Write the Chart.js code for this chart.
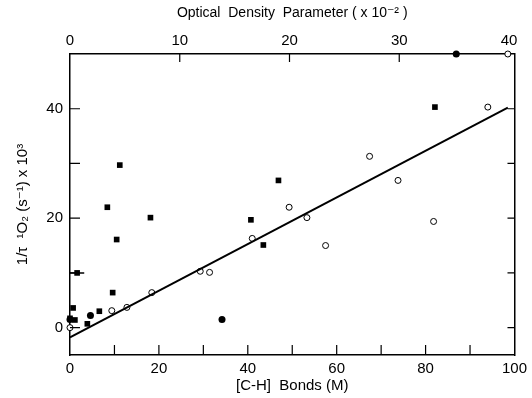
<!DOCTYPE html>
<html>
<head>
<meta charset="utf-8">
<script src="https://cdn.jsdelivr.net/npm/chart.js@4/dist/chart.umd.min.js"></script>
<style>
  html, body { margin: 0; padding: 0; background: #fff; }
  #wrap { width: 532px; height: 398px; }
</style>
</head>
<body>
<div id="wrap"><canvas id="chart"></canvas></div>
<script>
// values
const openX = [0, 9.4, 12.8, 18.4, 29.3, 31.4, 41.0, 49.3, 53.3, 57.5, 67.4, 73.8, 81.8, 94.0, 98.5];
const openY = [0, 3.1, 3.7, 6.4, 10.3, 10.1, 16.3, 22.0, 20.1, 15.0, 31.3, 26.9, 19.4, 40.3, 50];

const squareX = [0, 0.7, 1.1, 3.9, 6.6, 9.6, 10.5, 8.4, 11.2, 18.1, 40.7, 43.5, 46.9, 82.1, 1.6];
const squareY = [1.7, 3.6, 1.4, 0.7, 3.0, 6.4, 16.1, 22.0, 29.7, 20.1, 19.7, 15.1, 26.9, 40.3, 10.0];

const dotX = [0, 4.6, 34.2, 86.9];
const dotY = [1.5, 2.2, 1.5, 50];

const fitX = [0, 98.5];
const fitY = [-1.8, 40.2];

const errX = [0, 3.2];
const errY = [10, 10];

const bottomTicks = [0, 20, 40, 60, 80, 100];
const topTicks = [0, 10, 20, 30, 40];
const leftTicks = [0, 20, 40];

function pts(xs, ys) {
    return xs.map((x, i) => ({ x: x, y: ys[i] }));
}

function fixTicks(list) {
    return (s) => { s.ticks = list.map((v) => ({ value: v })); };
}

Chart.defaults.font.family = "'Liberation Sans', 'DejaVu Sans', sans-serif";
Chart.defaults.color = "#000";

// tick marks pointing into the plot
const innerTicks = {
    id: "innerTicks",
    afterDatasetsDraw(chart) {
        const ctx = chart.ctx;
        const a = chart.chartArea;
        ctx.save();
        ctx.strokeStyle = "#000";
        ctx.lineWidth = 1.2;
        ctx.beginPath();
        for (let v = 10; v < 100; v += 10) {
            const px = chart.scales.x.getPixelForValue(v);
            ctx.moveTo(px, a.bottom);
            ctx.lineTo(px, a.bottom - 10);
        }
        for (let v = 10; v < 40; v += 10) {
            const px = chart.scales.x2.getPixelForValue(v);
            ctx.moveTo(px, a.top);
            ctx.lineTo(px, a.top + 8);
        }
        for (let v = 0; v < 50; v += 10) {
            const py = chart.scales.y.getPixelForValue(v);
            ctx.moveTo(a.left, py);
            ctx.lineTo(a.left + 10, py);
            ctx.moveTo(a.right, py);
            ctx.lineTo(a.right - 7, py);
        }
        ctx.stroke();
        ctx.restore();
    }
};

new Chart(document.getElementById("chart"), {
    type: "scatter",
    data: {
        datasets: [
            {
                data: pts(fitX, fitY),
                showLine: true,
                borderColor: "#000",
                borderWidth: 2,
                pointRadius: 0,
            },
            {
                data: pts(errX, errY),
                showLine: true,
                borderColor: "#000",
                borderWidth: 1.5,
                pointRadius: 0,
            },
            {
                data: pts(openX, openY),
                pointStyle: "circle",
                pointRadius: 3,
                backgroundColor: "#fff",
                borderColor: "#000",
                borderWidth: 1,
                clip: false,
            },
            {
                data: pts(squareX, squareY),
                pointStyle: "rect",
                pointRadius: 4,
                backgroundColor: "#000",
                borderColor: "#000",
                borderWidth: 0,
                clip: false,
            },
            {
                data: pts(dotX, dotY),
                pointStyle: "circle",
                pointRadius: 3.5,
                backgroundColor: "#000",
                borderColor: "#000",
                borderWidth: 0,
                clip: false,
            },
        ],
    },
    options: {
        responsive: true,
        maintainAspectRatio: false,
        animation: false,
        layout: { padding: 0 },
        plugins: { legend: { display: false }, tooltip: { enabled: false } },
        scales: {
            x: {
                type: "linear",
                position: "bottom",
                min: 0,
                max: 100,
                grid: { display: false, drawTicks: false },
                border: { color: "#000", width: 1.5 },
                ticks: {
                    padding: 5,
                    autoSkip: false,
                    maxRotation: 0,
                    font: { size: 15 },
                },
                afterBuildTicks: fixTicks(bottomTicks),
                title: {
                    display: true,
                    text: "[C-H]  Bonds (M)",
                    font: { size: 15 },
                    padding: { top: 0, bottom: 3 },
                },
                afterFit: (s) => { s.height = 43; },
            },
            x2: {
                type: "linear",
                position: "top",
                min: 0,
                max: 40.5,
                grid: { display: false, drawTicks: false },
                border: { color: "#000", width: 1.5 },
                ticks: {
                    padding: 4,
                    autoSkip: false,
                    maxRotation: 0,
                    font: { size: 15 },
                },
                afterBuildTicks: fixTicks(topTicks),
                title: {
                    display: true,
                    text: "Optical  Density  Parameter ( x 10\u207B\u00B2 )",
                    font: { size: 14 },
                    padding: { top: 5, bottom: 0 },
                },
                afterFit: (s) => { s.height = 54; },
            },
            y: {
                type: "linear",
                position: "left",
                min: -5,
                max: 50,
                grid: { display: false, drawTicks: false },
                border: { color: "#000", width: 1.5 },
                ticks: {
                    padding: 7,
                    autoSkip: false,
                    font: { size: 15 },
                },
                afterBuildTicks: fixTicks(leftTicks),
                title: {
                    display: true,
                    text: "1/\u03C4  \u00B9O\u2082 (s\u207B\u00B9) x 10\u00B3",
                    font: { size: 15 },
                    padding: { top: 14, bottom: 4 },
                },
                afterFit: (s) => { s.width = 70; },
            },
            y2: {
                type: "linear",
                position: "right",
                min: -5,
                max: 50,
                grid: { display: false, drawTicks: false },
                border: { color: "#000", width: 1.5 },
                ticks: { display: false },
                afterFit: (s) => { s.width = 16; },
            },
        },
    },
    plugins: [innerTicks],
});
</script>
</body>
</html>
